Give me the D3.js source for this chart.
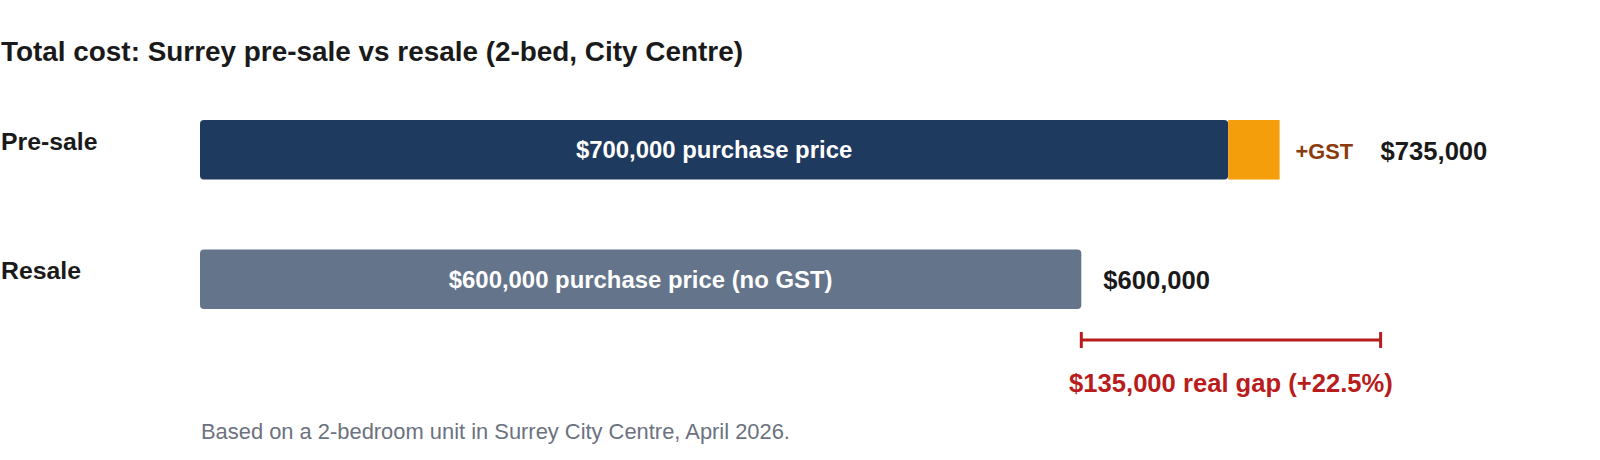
<!DOCTYPE html>
<html><head><meta charset="utf-8">
<script src="https://cdn.jsdelivr.net/npm/d3@7"></script>
<style>
html,body{margin:0;padding:0;background:#fff;}
svg{display:block;font-family:"Liberation Sans",Arial,Helvetica,sans-serif;}
</style></head>
<body>
<svg id="chart" width="1600" height="460"></svg>
<script>
const categories = ["Pre-sale", "Resale"];
const purchasePrice = [700000, 600000];
const gstAmount = [35000, 0];
const barLabels = ["$700,000 purchase price", "$600,000 purchase price (no GST)"];
const totalLabels = ["$735,000", "$600,000"];
const gstLabel = "+GST";
const gapLabel = "$135,000 real gap (+22.5%)";
const titleText = "Total cost: Surrey pre-sale vs resale (2-bed, City Centre)";
const noteText = "Based on a 2-bedroom unit in Surrey City Centre, April 2026.";

const totals = purchasePrice.map((p, i) => p + gstAmount[i]);
const svg = d3.select("#chart");

const x = d3.scaleLinear().domain([0, 735000]).range([200, 1279.6]);
const y = d3.scaleBand().domain(categories).range([120, 309]).paddingInner(0.54);

const colors = { presale: "#1f3a5f", resale: "#64748b", gst: "#f59e0b" };

svg.append("text").attr("x", 1).attr("y", 61)
  .attr("font-size", 27.9).attr("font-weight", "bold").attr("fill", "#1a1a1a")
  .text(titleText);

// category labels
svg.selectAll(".cat").data(categories).join("text")
  .attr("x", 1).attr("y", d => y(d) + 30)
  .attr("font-size", 24.8).attr("font-weight", "bold").attr("fill", "#1a1a1a")
  .text(d => d);

// main bars
svg.selectAll(".bar").data(categories).join("rect")
  .attr("x", x(0)).attr("y", d => y(d))
  .attr("width", (d, i) => x(purchasePrice[i]) - x(0))
  .attr("height", y.bandwidth())
  .attr("rx", 4)
  .attr("fill", (d, i) => i === 0 ? colors.presale : colors.resale);

// GST segment
svg.selectAll(".gst").data(categories.filter((d, i) => gstAmount[i] > 0)).join("rect")
  .attr("x", d => x(purchasePrice[categories.indexOf(d)]))
  .attr("y", d => y(d))
  .attr("width", d => x(totals[categories.indexOf(d)]) - x(purchasePrice[categories.indexOf(d)]))
  .attr("height", y.bandwidth())
  .attr("fill", colors.gst);

// in-bar labels
svg.selectAll(".blab").data(categories).join("text")
  .attr("x", (d, i) => (x(0) + x(purchasePrice[i])) / 2)
  .attr("y", d => y(d) + y.bandwidth() / 2 + 8.5)
  .attr("text-anchor", "middle")
  .attr("font-size", 23.9).attr("font-weight", "bold").attr("fill", "#ffffff")
  .text((d, i) => barLabels[i]);

// +GST label
const totalLabelX = totals.map((t, i) => x(t) + (gstAmount[i] > 0 ? 101 : 22));
svg.append("text")
  .attr("x", x(totals[0]) + 16)
  .attr("y", y(categories[0]) + y.bandwidth() / 2 + 9.5)
  .attr("font-size", 21.8).attr("font-weight", "bold").attr("fill", "#8b3a0e")
  .text(gstLabel);

// totals
svg.selectAll(".tot").data(categories).join("text")
  .attr("x", (d, i) => totalLabelX[i])
  .attr("y", d => y(d) + y.bandwidth() / 2 + 10)
  .attr("font-size", 25.6).attr("font-weight", "bold").attr("fill", "#1a1a1a")
  .text((d, i) => totalLabels[i]);

// gap bracket
const gx0 = x(totals[1]), gx1 = totalLabelX[0];
const gy = 340;
const red = "#b91c1c";
const g = svg.append("g").attr("stroke", red).attr("stroke-width", 3);
g.append("line").attr("x1", gx0).attr("x2", gx1).attr("y1", gy).attr("y2", gy);
g.append("line").attr("x1", gx0).attr("x2", gx0).attr("y1", gy - 8).attr("y2", gy + 8);
g.append("line").attr("x1", gx1).attr("x2", gx1).attr("y1", gy - 8).attr("y2", gy + 8);
svg.append("text").attr("x", (gx0 + gx1) / 2).attr("y", 391.5)
  .attr("text-anchor", "middle")
  .attr("font-size", 25.6).attr("font-weight", "bold").attr("fill", red)
  .text(gapLabel);

svg.append("text").attr("x", 201).attr("y", 439)
  .attr("font-size", 21.9).attr("fill", "#6b7280")
  .text(noteText);
</script>
</body></html>
